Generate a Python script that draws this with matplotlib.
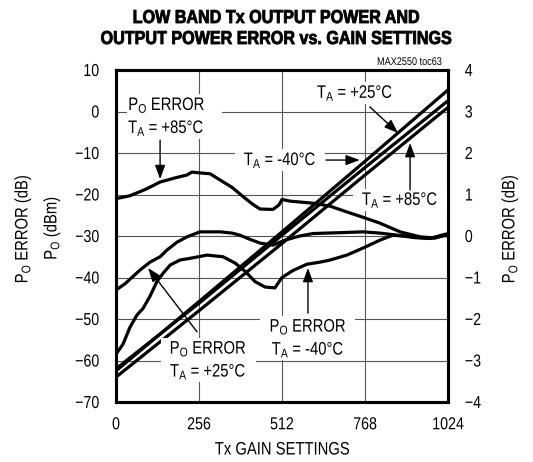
import matplotlib
matplotlib.use("Agg")
import matplotlib.pyplot as plt
from matplotlib.patheffects import AbstractPathEffect
from matplotlib.text import Text
from matplotlib.transforms import Affine2D

# gain setting axis (x) and curves
pout_x = [0, 256, 512, 768, 1024]
pout_25 = [-62.5, -45.8, -29.0, -12.0, 5.2]
pout_m40 = [-62.0, -46.2, -29.8, -13.5, 2.6]
pout_85 = [-64.0, -48.0, -31.8, -15.3, 1.0]

err85_x = [0, 43, 90, 136, 182, 219, 234, 259, 290, 321, 358, 392, 419, 444, 484,
           503, 512, 537, 608, 660, 712, 762, 814, 876, 938, 984, 1014, 1024]
err85_y = [-21.0, -20.3, -18.8, -17.0, -16.0, -15.3, -14.6, -14.8, -15.0, -16.5,
           -18.3, -20.5, -22.2, -23.5, -23.6, -22.5, -21.2, -21.6, -22.1, -22.8,
           -24.2, -25.5, -26.9, -29.0, -30.2, -30.5, -29.8, -29.5]

err25_x = [0, 28, 74, 105, 136, 157, 188, 219, 259, 321, 358, 382, 413, 444, 484,
           521, 567, 608, 691, 762, 814, 867, 922, 968, 1014, 1024]
err25_y = [-43.0, -41.5, -38.2, -36.3, -35.0, -33.4, -31.5, -30.2, -29.0, -29.0,
           -29.3, -29.8, -30.8, -31.7, -32.2, -31.0, -30.0, -29.4, -29.2, -29.0,
           -29.3, -29.8, -30.4, -30.6, -29.6, -29.5]

errm40_x = [0, 22, 43, 65, 83, 105, 126, 145, 167, 197, 234, 281, 330, 367, 398,
            429, 460, 490, 512, 546, 589, 629, 660, 712, 762, 814, 854, 916, 968,
            1014, 1024]
errm40_y = [-58.5, -56.0, -52.0, -49.0, -47.5, -44.5, -41.0, -39.0, -37.0, -35.8,
            -35.3, -34.6, -35.0, -36.5, -38.5, -41.0, -42.3, -42.5, -40.0, -38.3,
            -36.8, -36.3, -35.8, -34.6, -32.9, -31.0, -29.8, -30.2, -30.6, -29.9,
            -30.0]

x_ticks = [0, 256, 512, 768, 1024]
left_ticks = [10, 0, -10, -20, -30, -40, -50, -60, -70]
right_ticks = [4, 3, 2, 1, 0, -1, -2, -3, -4]


class Condense(AbstractPathEffect):
    """Squeeze text glyphs horizontally (Helvetica Narrow look)."""

    def __init__(self, sx=0.82, frac=0.5, stroke=0.0):
        super().__init__()
        self.sx = sx
        self.frac = frac
        self.stroke = stroke

    def draw_path(self, renderer, gc, tpath, affine, rgbFace=None):
        ext = tpath.get_extents()
        x0 = ext.x0 + self.frac * (ext.x1 - ext.x0)
        squeeze = Affine2D().translate(-x0, 0).scale(self.sx, 1).translate(x0, 0)
        if self.stroke and rgbFace is not None:
            gc0 = renderer.new_gc()
            gc0.copy_properties(gc)
            gc0.set_linewidth(self.stroke)
            gc0.set_foreground(rgbFace)
            renderer.draw_path(gc0, tpath, squeeze + affine, rgbFace)
            gc0.restore()
        else:
            renderer.draw_path(gc, tpath, squeeze + affine, rgbFace)


plt.rcParams["font.family"] = ["Liberation Sans", "DejaVu Sans"]
plt.rcParams["mathtext.fontset"] = "custom"
plt.rcParams["mathtext.rm"] = "Liberation Sans"
plt.rcParams["mathtext.default"] = "rm"

TICK = 12.5
ANN = 13
LAB = 13

fig = plt.figure(figsize=(5.33, 4.62), dpi=100)
ax = fig.add_axes([116 / 533, 1 - 402 / 462, 332 / 533, 332 / 462])

LW = 2.3
ax.plot(pout_x, pout_85, color="black", lw=LW, zorder=3)
ax.plot(pout_x, pout_m40, color="black", lw=LW, zorder=3)
ax.plot(pout_x, pout_25, color="black", lw=LW, zorder=3)
ax.plot(err85_x, err85_y, color="black", lw=LW, zorder=3)
ax.plot(err25_x, err25_y, color="black", lw=LW, zorder=3)
ax.plot(errm40_x, errm40_y, color="black", lw=LW, zorder=3)

ax.set_xlim(0, 1024)
ax.set_ylim(-70, 10)
ax.set_xticks(x_ticks)
ax.set_yticks(left_ticks)
ax.grid(True, color="#555555", lw=0.8)
ax.tick_params(axis="y", length=0, labelsize=TICK, pad=12)
ax.tick_params(axis="x", length=0, labelsize=TICK, pad=11)
for sp in ax.spines.values():
    sp.set_linewidth(2.2)

ax2 = ax.twinx()
ax2.set_ylim(-4, 4)
ax2.set_yticks(right_ticks)
ax2.tick_params(length=0, labelsize=TICK, pad=12)
for sp in ax2.spines.values():
    sp.set_linewidth(2.2)

fig.text(282 / 533, 1 - 450 / 462, "Tx GAIN SETTINGS", fontsize=LAB,
         ha="center", va="center")
fig.text(510 / 533, 1 - 229 / 462, r"P$_{\mathrm{O}}$ ERROR (dB)", rotation=90,
         fontsize=LAB, ha="center", va="center")
fig.text(52 / 533, 1 - 228 / 462, r"P$_{\mathrm{O}}$ (dBm)", rotation=90,
         fontsize=LAB, ha="center", va="center")
fig.text(23 / 533, 1 - 229 / 462, r"P$_{\mathrm{O}}$ ERROR (dB)", rotation=90,
         fontsize=LAB, ha="center", va="center")

title1 = fig.text(276 / 533, 1 - 18.5 / 462, "LOW BAND Tx OUTPUT POWER AND",
                  fontsize=13.5, fontweight="bold", ha="center", va="center")
title2 = fig.text(276 / 533, 1 - 39.5 / 462, "OUTPUT POWER ERROR vs. GAIN SETTINGS",
                  fontsize=13.5, fontweight="bold", ha="center", va="center")
fig.text(442 / 533, 1 - 62 / 462, "MAX2550 toc63", fontsize=8, ha="right",
         va="center")

box = dict(facecolor="white", edgecolor="none", pad=0.5)
txt = dict(fontsize=ANN, zorder=5, bbox=box, linespacing=1.2)
arw = dict(arrowstyle="-|>,head_length=0.6,head_width=0.22", color="black",
           lw=1.0, mutation_scale=14, shrinkA=0, shrinkB=0)

ax.text(37, -1.2, "P$_{\\mathrm{O}}$ ERROR\nT$_{\\mathrm{A}}$ = +85°C",
        ha="left", va="center", **txt)
ax.annotate("", xy=(136, -16.3), xytext=(136, -6.9), arrowprops=arw, zorder=6)

ax.text(506, -11.7, "T$_{\\mathrm{A}}$ = -40°C", ha="center", va="center", **txt)
ax.annotate("", xy=(752, -11.7), xytext=(648, -11.7), arrowprops=arw, zorder=6)

ax.text(737, 4.5, "T$_{\\mathrm{A}}$ = +25°C", ha="center", va="center", **txt)
ax.annotate("", xy=(870, -5.2), xytext=(783, 1.1), arrowprops=arw, zorder=6)

ax.text(876, -21.3, "T$_{\\mathrm{A}}$ = +85°C", ha="center", va="center", **txt)
ax.annotate("", xy=(907, -7.6), xytext=(907, -18.9), arrowprops=arw, zorder=6)

ax.text(284, -59.9, "P$_{\\mathrm{O}}$ ERROR\nT$_{\\mathrm{A}}$ = +25°C",
        ha="center", va="center", **txt)
ax.annotate("", xy=(99, -37.7), xytext=(250, -53.1), arrowprops=arw, zorder=6)

ax.text(592, -54.6, "P$_{\\mathrm{O}}$ ERROR\nT$_{\\mathrm{A}}$ = -40°C",
        ha="center", va="center", **txt)
ax.annotate("", xy=(592, -37.7), xytext=(592, -48.6), arrowprops=arw, zorder=6)

# squeeze every text horizontally, anchored on its alignment point
fig.canvas.draw()
anchor = {"left": 0.0, "center": 0.5, "right": 1.0}
for t in fig.findobj(Text):
    if not t.get_text():
        continue
    if t in (title1, title2):
        t.set_path_effects([Condense(0.86, 0.5, stroke=0.6)])
    else:
        t.set_path_effects([Condense(0.82, anchor[t.get_ha()])])

fig.savefig("out.png", dpi=100)
